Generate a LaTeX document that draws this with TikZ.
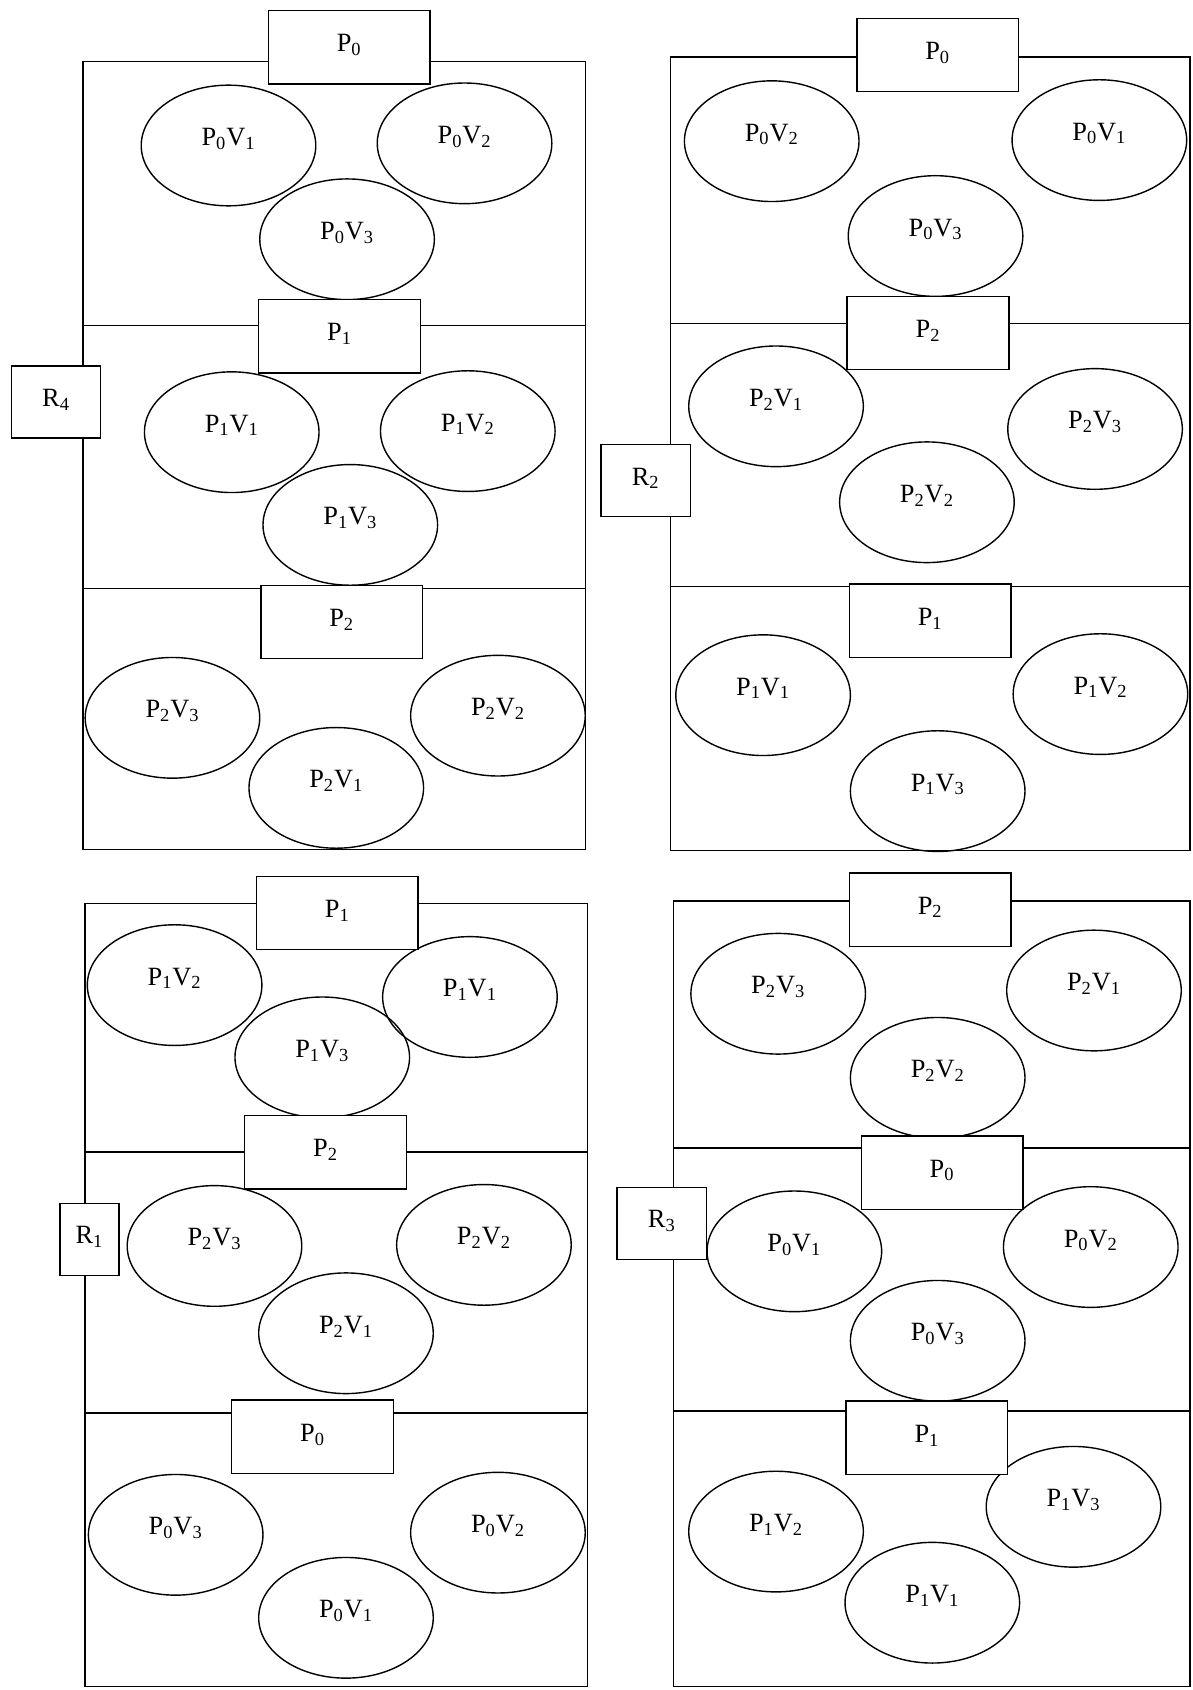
\documentclass[tikz,border=0pt]{standalone}
\usepackage{fontspec}
\setmainfont{Liberation Serif}
\usepackage{tikz}
\usetikzlibrary{shapes.geometric}

\newcommand{\pv}[2]{P\textsubscript{#1}V\textsubscript{#2}}
\newcommand{\pp}[1]{P\textsubscript{#1}}
\newcommand{\rr}[1]{R\textsubscript{#1}}

\begin{document}
\begin{tikzpicture}[x=0.021556cm, y=-0.021556cm, line width=0.8pt,
    every node/.style={font=\fontsize{15}{18}\selectfont},
    pbox/.style={draw, fill=white, minimum width=3.233cm, minimum height=1.466cm, inner sep=0pt,
        text height=0.4cm, text depth=0.22cm},
    rbox/.style={draw, fill=white, minimum width=1.789cm, minimum height=1.444cm, inner sep=0pt,
        text height=0.4cm, text depth=0.22cm},
    vell/.style={draw, ellipse, minimum width=3.492cm, minimum height=2.414cm, inner sep=0pt,
        text height=0.4cm, text depth=0.4cm}]
    \useasboundingbox (0,0) rectangle (1106,1568);

    % Region R4 (top left)
    \draw (77,57) rectangle (543,788);
    \draw (77,302) -- (543,302);
    \draw (77,546) -- (543,546);
    \node[vell] (r4p0v1) at (212,135) {\pv{0}{1}};
    \node[vell] (r4p0v2) at (431,133) {\pv{0}{2}};
    \node[vell] (r4p0v3) at (322,222) {\pv{0}{3}};
    \node[vell] (r4p1v1) at (215,401) {\pv{1}{1}};
    \node[vell] (r4p1v2) at (434,400) {\pv{1}{2}};
    \node[vell] (r4p1v3) at (325,487) {\pv{1}{3}};
    \node[vell] (r4p2v3) at (160,666) {\pv{2}{3}};
    \node[vell] (r4p2v2) at (462,664) {\pv{2}{2}};
    \node[vell] (r4p2v1) at (312,731) {\pv{2}{1}};
    \node[pbox] (r4p0) at (324,44) {\pp{0}};
    \node[pbox] (r4p1) at (315,312) {\pp{1}};
    \node[pbox] (r4p2) at (317,577) {\pp{2}};
    \node[rbox] (r4) at (52,373) {\rr{4}};

    % Region R2 (top right)
    \draw (622,53) rectangle (1104,789);
    \draw (622,300) -- (1104,300);
    \draw (622,544) -- (1104,544);
    \node[vell] (r2p0v2) at (716,131) {\pv{0}{2}};
    \node[vell] (r2p0v1) at (1020,130) {\pv{0}{1}};
    \node[vell] (r2p0v3) at (868,219) {\pv{0}{3}};
    \node[vell] (r2p2v1) at (720,377) {\pv{2}{1}};
    \node[vell] (r2p2v3) at (1016,398) {\pv{2}{3}};
    \node[vell] (r2p2v2) at (860,466) {\pv{2}{2}};
    \node[vell] (r2p1v1) at (708,645) {\pv{1}{1}};
    \node[vell] (r2p1v2) at (1021,644) {\pv{1}{2}};
    \node[vell] (r2p1v3) at (870,734) {\pv{1}{3}};
    \node[pbox] (r2p0) at (870,51) {\pp{0}};
    \node[pbox] (r2p2) at (861,309) {\pp{2}};
    \node[pbox] (r2p1) at (863,576) {\pp{1}};
    \node[rbox] (r2) at (599,446) {\rr{2}};

    % Region R1 (bottom left)
    \draw (79,838) rectangle (545,1565);
    \draw (79,1069) -- (545,1069);
    \draw (79,1311) -- (545,1311);
    \node[vell] (r1p1v2) at (162,914) {\pv{1}{2}};
    \node[vell] (r1p1v1) at (436,925) {\pv{1}{1}};
    \node[vell] (r1p1v3) at (299,981) {\pv{1}{3}};
    \node[vell] (r1p2v3) at (199,1156) {\pv{2}{3}};
    \node[vell] (r1p2v2) at (449,1155) {\pv{2}{2}};
    \node[vell] (r1p2v1) at (321,1237) {\pv{2}{1}};
    \node[vell] (r1p0v3) at (163,1424) {\pv{0}{3}};
    \node[vell] (r1p0v2) at (462,1422) {\pv{0}{2}};
    \node[vell] (r1p0v1) at (321,1501) {\pv{0}{1}};
    \node[pbox] (r1p1) at (313,847) {\pp{1}};
    \node[pbox] (r1p2) at (302,1069) {\pp{2}};
    \node[pbox] (r1p0) at (290,1333) {\pp{0}};
    \node[rbox, minimum width=1.186cm] (r1) at (83,1150) {\rr{1}};

    % Region R3 (bottom right)
    \draw (625,836) rectangle (1104,1565);
    \draw (625,1065) -- (1104,1065);
    \draw (625,1309) -- (1104,1309);
    \node[vell] (r3p2v3) at (722,922) {\pv{2}{3}};
    \node[vell] (r3p2v1) at (1015,919) {\pv{2}{1}};
    \node[vell] (r3p2v2) at (870,1000) {\pv{2}{2}};
    \node[vell] (r3p0v1) at (737,1161) {\pv{0}{1}};
    \node[vell] (r3p0v2) at (1012,1157) {\pv{0}{2}};
    \node[vell] (r3p0v3) at (870,1244) {\pv{0}{3}};
    \node[vell] (r3p1v3) at (996,1398) {\pv{1}{3}};
    \node[vell] (r3p1v2) at (720,1421) {\pv{1}{2}};
    \node[vell] (r3p1v1) at (865,1487) {\pv{1}{1}};
    \node[pbox] (r3p2) at (863,844) {\pp{2}};
    \node[pbox] (r3p0) at (874,1088) {\pp{0}};
    \node[pbox] (r3p1) at (860,1334) {\pp{1}};
    \node[rbox] (r3) at (614,1135) {\rr{3}};
\end{tikzpicture}
\end{document}
